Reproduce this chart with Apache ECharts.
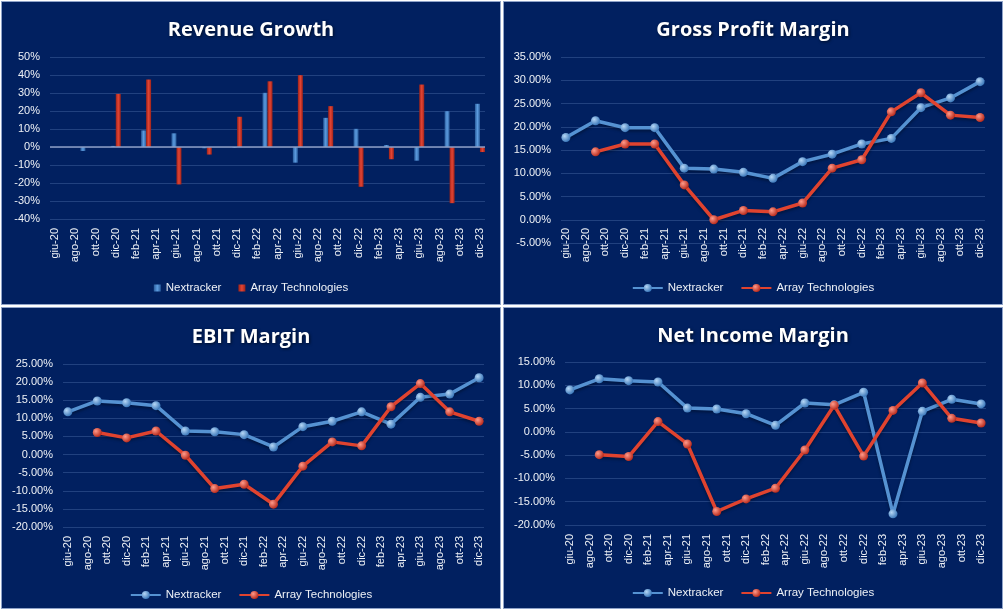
<!DOCTYPE html>
<html><head><meta charset="utf-8">
<script src="https://cdn.jsdelivr.net/npm/echarts@6/dist/echarts.min.js"></script>
<style>
html,body{margin:0;padding:0;background:#fff;width:1004px;height:609px;overflow:hidden;}
.p{position:absolute;background:#012060;border:1px solid #8fa3c9;box-sizing:border-box;}
</style></head><body>
<div id="c1" class="p" style="left:1px;top:1px;width:500px;height:304px"></div>
<div id="c2" class="p" style="left:503px;top:1px;width:500px;height:304px"></div>
<div id="c3" class="p" style="left:1px;top:307px;width:500px;height:302px"></div>
<div id="c4" class="p" style="left:503px;top:307px;width:500px;height:302px"></div>
<script>
// ---- data ----
const tickLabels = ['giu-20','ago-20','ott-20','dic-20','feb-21','apr-21','giu-21','ago-21','ott-21','dic-21','feb-22','apr-22','giu-22','ago-22','ott-22','dic-22','feb-23','apr-23','giu-23','ago-23','ott-23','dic-23'];
const quarters = ['giu-20','set-20','dic-20','mar-21','giu-21','set-21','dic-21','mar-22','giu-22','set-22','dic-22','mar-23','giu-23','set-23','dic-23'];
const seriesNames = ['Nextracker','Array Technologies'];

const revNextracker = [null,-2.2,0.6,9.2,7.6,-0.7,-0.5,30.1,-8.7,16.2,10.1,1.1,-7.6,19.9,24.0];
const revArray      = [null,null,29.5,37.5,-20.8,-4.2,16.8,36.5,39.9,22.7,-22.1,-6.8,34.7,-31.2,-2.8];

const gpmNextracker = [17.7,21.3,19.8,19.8,11.1,10.9,10.2,8.9,12.5,14.1,16.3,17.5,24.1,26.2,29.7];
const gpmArray      = [null,14.6,16.3,16.3,7.5,0.0,2.0,1.7,3.6,11.1,12.9,23.2,27.3,22.5,22.0];

const ebitNextracker = [11.8,14.8,14.3,13.5,6.5,6.3,5.5,2.1,7.7,9.2,11.8,8.4,15.8,16.7,21.2];
const ebitArray      = [null,6.1,4.6,6.5,-0.2,-9.4,-8.2,-13.7,-3.2,3.5,2.4,13.2,19.6,11.8,9.2];

const nimNextracker = [9.0,11.4,11.0,10.7,5.1,4.9,3.9,1.4,6.2,5.8,8.5,-17.6,4.4,7.0,6.0];
const nimArray      = [null,-4.9,-5.3,2.2,-2.6,-17.1,-14.4,-12.1,-3.9,5.7,-5.2,4.6,10.5,2.9,1.9];

// ---- helpers ----
const monthNames = ['gen','feb','mar','apr','mag','giu','lug','ago','set','ott','nov','dic'];
function monthIdx(lbl){ const [m,y]=lbl.split('-'); return (parseInt(y)-20)*12 + monthNames.indexOf(m) - 5; }
function pairs(vals){ return quarters.map((q,i)=>[monthIdx(q), vals[i]]).filter(p=>p[1]!==null); }

const BLUE='#5592d2', RED='#e0432f';
const FONT='"Liberation Sans", Arial, sans-serif';
const TXT='#eef1f6';
const GRIDC='rgba(120,150,210,0.28)';
const G=echarts.graphic;
function sphere(c0,c1){ return new G.RadialGradient(0.35,0.35,0.7,[{offset:0,color:c0},{offset:1,color:c1}]); }
function barGrad(e,m){ return new G.LinearGradient(0,0,1,0,[{offset:0,color:e},{offset:0.5,color:m},{offset:1,color:e}]); }

function base(title, grid, yMin, yMax, yInt, yFmt, labelMargin, legendTop, titleTop){
  return {
    animation:false,
    backgroundColor:'transparent',
    title:{text:title,left:'center',top:titleTop,
      textStyle:{color:'#ffffff',fontSize:20,fontWeight:'bold',fontFamily:'"Open Sans", "DejaVu Sans", sans-serif',
        textShadowColor:'rgba(0,0,0,0.6)',textShadowBlur:3,textShadowOffsetX:1,textShadowOffsetY:1}},
    legend:{top:legendTop,left:'center',itemGap:17,
      textStyle:{color:TXT,fontSize:11.5,fontFamily:FONT},data:seriesNames},
    grid:grid,
    xAxis:{type:'value',min:-0.5,max:42.5,interval:0.5,
      axisLine:{show:false,onZero:false},axisTick:{show:false},splitLine:{show:false},
      axisLabel:{rotate:90,margin:labelMargin,color:TXT,fontSize:11,fontFamily:FONT,
        formatter:v=>{ if(Math.abs(v-Math.round(v))<1e-6 && Math.round(v)%2===0 && v>=0 && v<=42) return tickLabels[Math.round(v)/2]; return ''; }}},
    yAxis:{type:'value',min:yMin,max:yMax,interval:yInt,
      axisLine:{show:false,onZero:false},axisTick:{show:false},
      splitLine:{lineStyle:{color:GRIDC,width:1}},
      axisLabel:{color:TXT,fontSize:11,fontFamily:FONT,margin:10,formatter:yFmt}},
  };
}

function lineSeries(name, vals, color, c0, c1){
  return {name:name,type:'line',data:pairs(vals),symbol:'circle',symbolSize:9,
    lineStyle:{color:color,width:3.5,shadowColor:'rgba(0,0,0,0.35)',shadowBlur:3,shadowOffsetY:2},
    itemStyle:{color:sphere(c0,c1),borderWidth:0}};
}

function lineChart(id, title, grid, yMin, yMax, nx, ar, labelMargin, legendTop, titleTop){
  const o = base(title, grid, yMin, yMax, 5, v=>v.toFixed(2)+'%', labelMargin, legendTop, titleTop);
  o.legend.itemWidth=30; o.legend.itemHeight=10;
  o.series=[lineSeries(seriesNames[0], nx, BLUE, '#b5d6f5', '#3674b8'),
            lineSeries(seriesNames[1], ar, RED, '#ff9a8a', '#b52618')];
  echarts.init(document.getElementById(id),null,{renderer:'canvas'}).setOption(o);
}

// Revenue Growth
(function(){
  const o = base('Revenue Growth',{left:48,top:55,width:435,height:162},-40,50,10,v=>v+'%',9,275,13);
  o.legend.itemWidth=7; o.legend.itemHeight=7; o.legend.icon='rect';
  o.series=[
    {name:seriesNames[0],type:'bar',data:pairs(revNextracker),barWidth:5,barGap:'0%',
      itemStyle:{color:barGrad('#2a5c9c','#5c9ce0')},
      markLine:{silent:true,symbol:'none',label:{show:false},data:[{yAxis:0}],
        lineStyle:{color:'#8c9ec6',width:1.5,type:'solid'}}},
    {name:seriesNames[1],type:'bar',data:pairs(revArray),barWidth:5,barGap:'0%',
      itemStyle:{color:barGrad('#9e2218','#e24535')}}
  ];
  echarts.init(document.getElementById('c1'),null,{renderer:'canvas'}).setOption(o);
})();

// Gross Profit: category labels sit just under the 0% line (axis crosses at zero), so the margin is negative
lineChart('c2','Gross Profit Margin',{left:57,top:55,width:424,height:186},-5,35,gpmNextracker,gpmArray,-15,275,13);
lineChart('c3','EBIT Margin',{left:61,top:56,width:421,height:163},-20,25,ebitNextracker,ebitArray,9,276,14);
lineChart('c4','Net Income Margin',{left:61,top:54,width:421,height:163},-20,15,nimNextracker,nimArray,9,274,13);
</script>
</body></html>
